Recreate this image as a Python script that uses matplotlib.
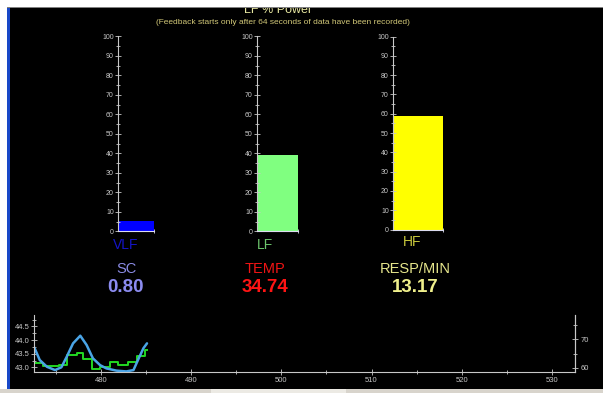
import matplotlib
matplotlib.use("Agg")
import matplotlib.pyplot as plt
from matplotlib.patches import Rectangle
from matplotlib.ticker import MultipleLocator, FixedLocator

plt.rcParams['font.family'] = ['Liberation Sans', 'DejaVu Sans']

# ---------------- data ----------------
band_names = ["VLF", "LF", "HF"]
band_power = [5.5, 39, 59]
bar_colors = ["#0000ff", "#80ff80", "#ffff00"]
band_label_colors = ["#1414c8", "#6cc46c", "#c8c83c"]

metric_names = ["SC", "TEMP", "RESP/MIN"]
metric_values = ["0.80", "34.74", "13.17"]
metric_name_colors = ["#8c8ce6", "#f01414", "#e6e68c"]
metric_value_colors = ["#8c8cf0", "#ff1414", "#f0f08c"]

title_text = "LF % Power"
subtitle_text = "(Feedback starts only after 64 seconds of data have been recorded)"

bar_yticks = [0, 10, 20, 30, 40, 50, 60, 70, 80, 90, 100]

blue_t = [472.6, 473.2, 474.0, 474.9, 475.6, 476.2, 476.9, 477.7, 478.4,
          479.1, 479.9, 480.6, 481.7, 482.8, 483.6, 484.1, 484.7, 485.1]
blue_v = [43.73, 43.27, 43.02, 42.90, 43.00, 43.39, 43.88, 44.16, 43.82,
          43.33, 43.08, 42.96, 42.88, 42.85, 42.90, 43.27, 43.70, 43.88]

green_t = [472.6, 473.6, 475.3, 476.2, 477.3, 478.0, 479.0, 479.9,
           481.0, 481.9, 483.0, 484.0, 484.9, 485.1]
green_v = [43.17, 43.05, 43.10, 43.44, 43.54, 43.30, 42.93, 43.02,
           43.19, 43.10, 43.20, 43.41, 43.65, 43.65]

strip_xticks = [480, 490, 500, 510, 520, 530]
left_yticks = [43.0, 43.5, 44.0, 44.5]
right_yticks = [60, 70]

# ---------------- figure ----------------
W, H = 603, 393
fig = plt.figure(figsize=(W / 100, H / 100), dpi=100, facecolor="black")


def ax_px(l, t, r, b):
    return fig.add_axes([l / W, 1 - b / H, (r - l) / W, (b - t) / H])


# window decorations
fig.add_artist(Rectangle((0, 1 - 7 / H), 1, 7 / H, transform=fig.transFigure,
                         facecolor="white", edgecolor="none", zorder=5))
fig.add_artist(Rectangle((0, 1 - 8 / H), 1, 1 / H, transform=fig.transFigure,
                         facecolor="#808080", edgecolor="none", zorder=5))
fig.add_artist(Rectangle((0, 0), 7 / W, 1, transform=fig.transFigure,
                         facecolor="white", edgecolor="none", zorder=5))
fig.add_artist(Rectangle((7 / W, 0), 3 / W, 1 - 8 / H, transform=fig.transFigure,
                         facecolor="#1848c8", edgecolor="none", zorder=5))
fig.add_artist(Rectangle((0, 0), 1, 4 / H, transform=fig.transFigure,
                         facecolor="#d8d4cc", edgecolor="none", zorder=5))
fig.add_artist(Rectangle((211 / W, 0), 135 / W, 4 / H, transform=fig.transFigure,
                         facecolor="#eceae4", edgecolor="none", zorder=5))

# titles
fig.text(278 / W, 1 - 10 / H, title_text, color="#e6e6a0", fontsize=9,
         ha="center", va="center", zorder=1)
fig.text(283 / W, 1 - 22 / H, subtitle_text, color="#d2c878", fontsize=6,
         ha="center", va="center")

# bar panels
panels = [(118, 36.5, 154, 231.5), (257, 36.5, 298, 231.5), (393, 36.5, 443, 229.5)]
label_pos = [(126, 245), (265, 245), (412, 242)]
metric_x = [126, 265, 415]
axis_col = "#c8c8c8"
for i, (l, t, r, b) in enumerate(panels):
    ax = ax_px(l, t, r, b)
    ax.set_facecolor("black")
    ax.bar([0], [band_power[i]], width=1, align="edge", color=bar_colors[i],
           edgecolor="none")
    ax.set_xlim(0, 1)
    ax.set_ylim(0, 100)
    for s in ("top", "right"):
        ax.spines[s].set_visible(False)
    ax.spines["left"].set_color(axis_col)
    ax.spines["bottom"].set_color("#dcdcf0")
    ax.spines["left"].set_linewidth(0.8)
    ax.spines["bottom"].set_linewidth(0.8)
    ax.yaxis.set_major_locator(FixedLocator(bar_yticks))
    ax.yaxis.set_minor_locator(FixedLocator([v + 5 for v in bar_yticks[:-1]]))
    ax.set_yticklabels([str(v) for v in bar_yticks])
    ax.set_xticks([1])
    ax.set_xticklabels([])
    ax.tick_params(axis="x", direction="inout", length=3, width=0.6, colors="#dcdcf0")
    ax.tick_params(axis="y", which="major", direction="inout", length=4, width=0.6,
                   colors=axis_col, labelsize=5, pad=1)
    ax.tick_params(axis="y", which="minor", direction="inout", length=3, width=0.6,
                   colors=axis_col)
    fig.text(label_pos[i][0] / W, 1 - label_pos[i][1] / H, band_names[i],
             color=band_label_colors[i], fontsize=10, ha="center", va="center")
    fig.text(metric_x[i] / W, 1 - 269 / H, metric_names[i],
             color=metric_name_colors[i], fontsize=10.5, ha="center", va="center")
    fig.text(metric_x[i] / W, 1 - 288 / H, metric_values[i],
             color=metric_value_colors[i], fontsize=13.5, fontweight="bold",
             ha="center", va="center")

# bottom strip chart
sax = ax_px(34.3, 315, 575.3, 371.7)
sax.set_facecolor("black")
sax.set_xlim(472.6, 532.6)
sax.set_ylim(42.84, 44.92)
sax.plot(green_t, green_v, drawstyle="steps-post", color="#22d822", linewidth=1.4)
sax.plot(blue_t, blue_v, color="#4aa4e6", linewidth=1.8, solid_capstyle="round")
sax.spines["top"].set_visible(False)
for s in ("left", "bottom", "right"):
    sax.spines[s].set_color(axis_col)
    sax.spines[s].set_linewidth(0.8)
sax.xaxis.set_major_locator(FixedLocator(strip_xticks))
sax.xaxis.set_minor_locator(MultipleLocator(5))
sax.set_xticklabels([str(v) for v in strip_xticks])
sax.yaxis.set_major_locator(FixedLocator(left_yticks))
sax.yaxis.set_minor_locator(MultipleLocator(0.25))
sax.set_yticklabels([f"{v:.1f}" for v in left_yticks])
sax.tick_params(which="major", direction="inout", length=4, width=0.6,
                colors=axis_col, labelsize=5.5, pad=1.5)
sax.tick_params(which="minor", direction="inout", length=3, width=0.6, colors=axis_col)

rax = sax.twinx()
rax.set_ylim(58.6, 78.6)
for s in ("top", "left", "bottom"):
    rax.spines[s].set_visible(False)
rax.spines["right"].set_color(axis_col)
rax.spines["right"].set_linewidth(0.8)
rax.yaxis.set_major_locator(FixedLocator(right_yticks))
rax.yaxis.set_minor_locator(MultipleLocator(5))
rax.set_yticklabels([str(v) for v in right_yticks])
rax.tick_params(which="major", direction="inout", length=4, width=0.6,
                colors=axis_col, labelsize=5.5, pad=1.5)
rax.tick_params(which="minor", direction="inout", length=3, width=0.6, colors=axis_col)

fig.savefig("out.png", dpi=100, facecolor="black")
